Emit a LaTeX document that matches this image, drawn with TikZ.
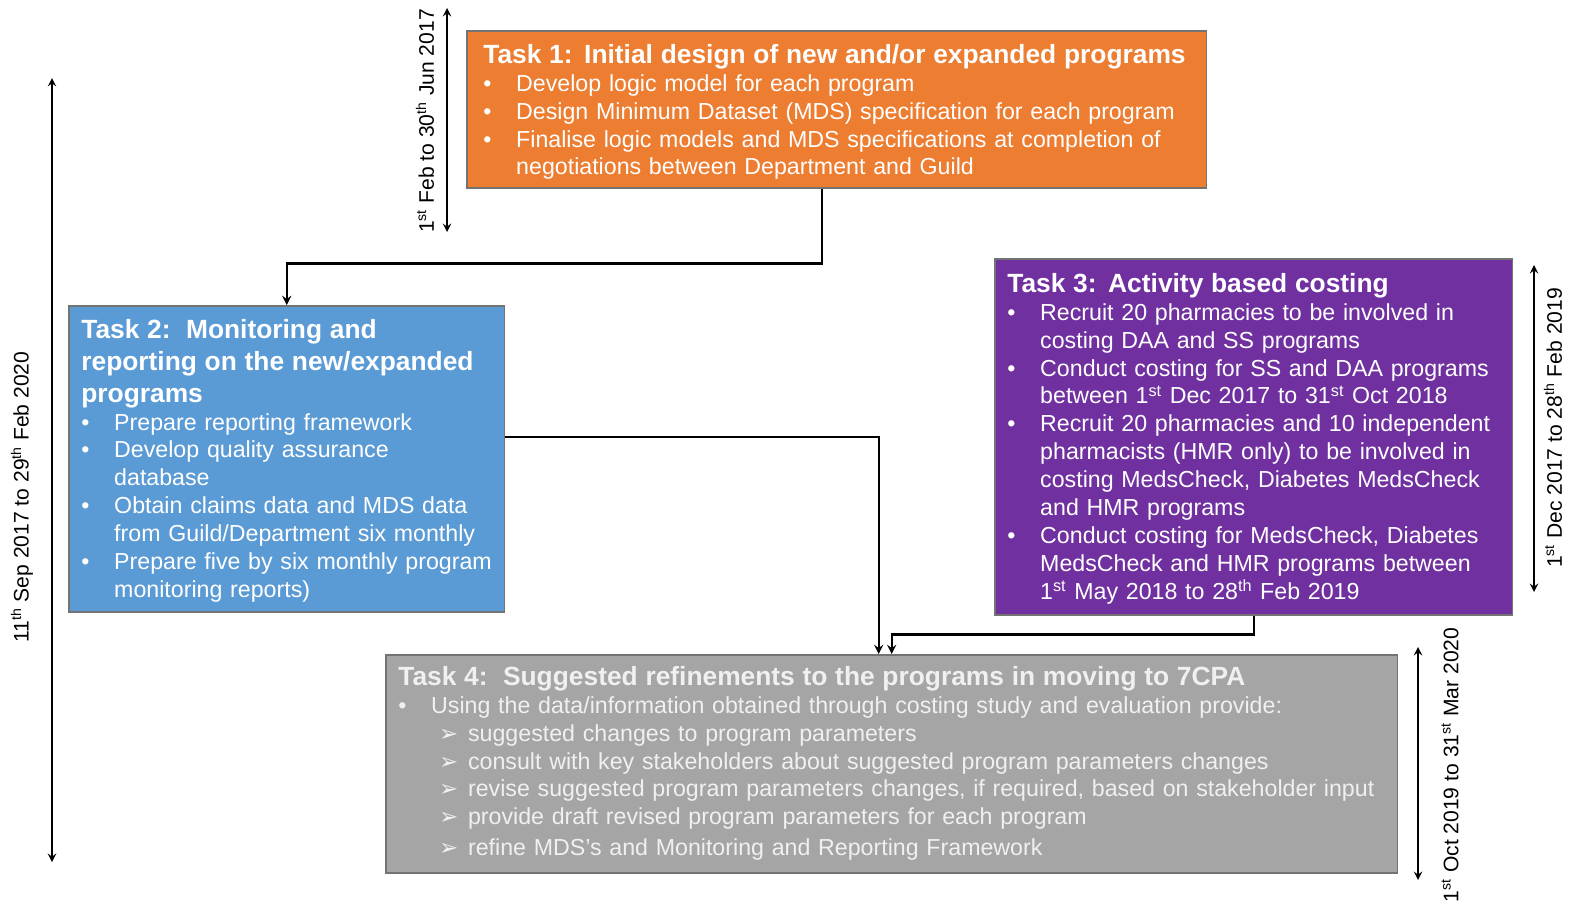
\documentclass[tikz,border=0pt]{standalone}
\usepackage{fontspec}
\setmainfont{Liberation Sans}
\newfontfamily\dingfont{DejaVu Sans}
\usetikzlibrary{arrows,calc}

\definecolor{taskorange}{HTML}{ED7D31}
\definecolor{taskblue}{HTML}{5B9BD5}
\definecolor{taskpurple}{HTML}{7030A0}
\definecolor{taskgray}{HTML}{A5A5A5}
\definecolor{graytext}{HTML}{F0F0F0}

\newlength\px
\setlength\px{0.56693pt}
\newcommand{\tasktitle}{\fontsize{15}{18.14}\selectfont\bfseries}
\newcommand{\bitem}{\par\noindent\hangindent=33\px\hangafter=1\makebox[33\px][l]{\textbullet}}
\newcommand{\sitem}{\par\noindent\hangindent=70\px\hangafter=1\hspace*{41\px}\makebox[29\px][l]{{\dingfont\fontsize{13}{15.87}\selectfont ➢}}}

\begin{document}
\begin{tikzpicture}[
    x=0.02cm, y=-0.02cm,
    taskbox/.style={rectangle, draw=black!55, line width=0.9pt, anchor=north west, inner sep=0pt},
    tasktext/.style={anchor=north west, inner sep=0pt, align=left, text=white, font=\fontsize{13.2}{15.87}\selectfont},
    conn/.style={->, >=stealth, line width=1.3pt},
    span/.style={<->, >=stealth, line width=1.1pt},
    spanlabel/.style={rotate=90, inner sep=0pt, font=\fontsize{12}{14}\selectfont}
]
\useasboundingbox (0,0) rectangle (1576,903);

% Task boxes
\node[taskbox, fill=taskorange, minimum width=14.8cm, minimum height=3.14cm] (t1) at (466,30) {};
\node[taskbox, fill=taskblue, minimum width=8.72cm, minimum height=6.12cm] (t2) at (68,305) {};
\node[taskbox, fill=taskpurple, minimum width=10.36cm, minimum height=7.12cm] (t3) at (994,258) {};
\node[taskbox, fill=taskgray, minimum width=20.24cm, minimum height=4.36cm] (t4) at (385,654) {};

% Task texts
\node[tasktext, text width=14.4cm] (t1text) at (483,44) {\noindent{\tasktitle Task 1: Initial design of new and/or expanded programs}
\bitem Develop logic model for each program
\bitem Design Minimum Dataset (MDS) specification for each program
\bitem Finalise logic models and MDS specifications at completion of\newline negotiations between Department and Guild\par};

\node[tasktext, text width=8.4cm] (t2text) at (81,319) {\noindent{\tasktitle Task 2:\ \ Monitoring and\newline reporting on the new/expanded\newline programs\par}
\bitem Prepare reporting framework
\bitem Develop quality assurance\newline database
\bitem Obtain claims data and MDS data\newline from Guild/Department six monthly
\bitem Prepare five by six monthly program\newline monitoring reports)\par};

\node[tasktext, text width=10.05cm] (t3text) at (1007,273) {\noindent{\tasktitle Task 3: Activity based costing}
\bitem Recruit 20 pharmacies to be involved in\newline costing DAA and SS programs
\bitem Conduct costing for SS and DAA programs\newline between 1\textsuperscript{st} Dec 2017 to 31\textsuperscript{st} Oct 2018
\bitem Recruit 20 pharmacies and 10 independent\newline pharmacists (HMR only) to be involved in\newline costing MedsCheck, Diabetes MedsCheck\newline and HMR programs
\bitem Conduct costing for MedsCheck, Diabetes\newline MedsCheck and HMR programs between\newline 1\textsuperscript{st} May 2018 to 28\textsuperscript{th} Feb 2019\par};

\node[tasktext, text=graytext, text width=19.9cm] (t4text) at (398,666) {\noindent{\tasktitle Task 4:\ \ Suggested refinements to the programs in moving to 7CPA}
\bitem Using the data/information obtained through costing study and evaluation provide:
\sitem suggested changes to program parameters
\sitem consult with key stakeholders about suggested program parameters changes
\sitem revise suggested program parameters changes, if required, based on stakeholder input
\sitem provide draft revised program parameters for each program
\par\vspace{3\px}
\sitem refine MDS's and Monitoring and Reporting Framework\par};

% Connectors
\draw[conn] ([xshift=-0.3cm]t1.south) -- ++(0,75) -| (t2.north);
\draw[conn] ([yshift=0.44cm]t2.east) -| ([xshift=-0.26cm]t4.north);
\draw[conn] (t3.south) -- ++(0,19) -| (t4.north);

% Time spans
\coordinate (s1top) at (447,8);
\coordinate (s1bot) at (447,232);
\draw[span] (s1top) -- (s1bot);
\node[spanlabel] (s1lab) at (425,121) {1\textsuperscript{st} Feb to 30\textsuperscript{th} Jun 2017};

\coordinate (s2top) at (52,78);
\coordinate (s2bot) at (52,862);
\draw[span] (s2top) -- (s2bot);
\node[spanlabel] (s2lab) at (22,497) {11\textsuperscript{th} Sep 2017 to 29\textsuperscript{th} Feb 2020};

\coordinate (s3top) at (1534,265);
\coordinate (s3bot) at (1534,592);
\draw[span] (s3top) -- (s3bot);
\node[spanlabel] (s3lab) at (1553,428) {1\textsuperscript{st} Dec 2017 to 28\textsuperscript{th} Feb 2019};

\coordinate (s4top) at (1418,647);
\coordinate (s4bot) at (1418,880);
\draw[span] (s4top) -- (s4bot);
\node[spanlabel] (s4lab) at (1450,765) {1\textsuperscript{st} Oct 2019 to 31\textsuperscript{st} Mar 2020};

\end{tikzpicture}
\end{document}
